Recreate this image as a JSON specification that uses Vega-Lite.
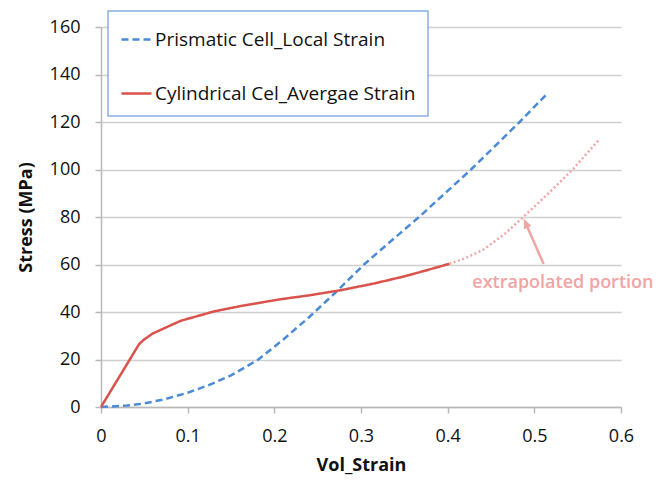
{
  "$schema": "https://vega.github.io/schema/vega-lite/v6.json",
  "width": 520,
  "height": 380,
  "autosize": {"type": "none"},
  "padding": {"left": 101, "top": 27, "right": 49, "bottom": 73},
  "background": "white",
  "config": {
    "font": "Open Sans",
    "view": {"stroke": null},
    "axis": {
      "labelFontSize": 18,
      "labelColor": "#111111",
      "labelFlush": false,
      "titleFontSize": 18,
      "titleFontWeight": "bold",
      "titleColor": "#111111",
      "domainColor": "#b8b8b8",
      "domainWidth": 1.5,
      "tickColor": "#b8b8b8",
      "tickWidth": 1.5,
      "tickSize": 6,
      "gridColor": "#cfcfcf",
      "gridWidth": 1.5
    },
    "legend": {
      "orient": "none",
      "legendX": 7,
      "legendY": -16,
      "fillColor": "white",
      "strokeColor": "#86aee6",
      "strokeWidth": 1.5,
      "padding": 12,
      "labelFontSize": 19,
      "labelColor": "#111111",
      "labelLimit": 400,
      "symbolType": "stroke",
      "symbolSize": 900,
      "symbolStrokeWidth": 2.5,
      "symbolOffset": 0,
      "labelOffset": 2,
      "rowPadding": 27
    }
  },
  "datasets": {
    "curves": [
      {"series": "Prismatic Cell_Local Strain", "strain": 0, "stress": 0},
      {"series": "Prismatic Cell_Local Strain", "strain": 0.03, "stress": 0.6},
      {"series": "Prismatic Cell_Local Strain", "strain": 0.05, "stress": 1.5},
      {"series": "Prismatic Cell_Local Strain", "strain": 0.075, "stress": 3.4},
      {"series": "Prismatic Cell_Local Strain", "strain": 0.1, "stress": 6.0},
      {"series": "Prismatic Cell_Local Strain", "strain": 0.125, "stress": 9.3},
      {"series": "Prismatic Cell_Local Strain", "strain": 0.15, "stress": 13.3},
      {"series": "Prismatic Cell_Local Strain", "strain": 0.1816, "stress": 20},
      {"series": "Prismatic Cell_Local Strain", "strain": 0.21, "stress": 28.3},
      {"series": "Prismatic Cell_Local Strain", "strain": 0.24, "stress": 37.8},
      {"series": "Prismatic Cell_Local Strain", "strain": 0.27, "stress": 48},
      {"series": "Prismatic Cell_Local Strain", "strain": 0.3035, "stress": 60},
      {"series": "Prismatic Cell_Local Strain", "strain": 0.335, "stress": 70},
      {"series": "Prismatic Cell_Local Strain", "strain": 0.367, "stress": 80},
      {"series": "Prismatic Cell_Local Strain", "strain": 0.397, "stress": 90},
      {"series": "Prismatic Cell_Local Strain", "strain": 0.427, "stress": 100},
      {"series": "Prismatic Cell_Local Strain", "strain": 0.455, "stress": 110},
      {"series": "Prismatic Cell_Local Strain", "strain": 0.483, "stress": 120},
      {"series": "Prismatic Cell_Local Strain", "strain": 0.515, "stress": 132},
      {"series": "Cylindrical Cel_Avergae Strain", "strain": 0, "stress": 0},
      {"series": "Cylindrical Cel_Avergae Strain", "strain": 0.044, "stress": 26.5},
      {"series": "Cylindrical Cel_Avergae Strain", "strain": 0.05, "stress": 28.5},
      {"series": "Cylindrical Cel_Avergae Strain", "strain": 0.06, "stress": 31},
      {"series": "Cylindrical Cel_Avergae Strain", "strain": 0.072, "stress": 33},
      {"series": "Cylindrical Cel_Avergae Strain", "strain": 0.092, "stress": 36.3},
      {"series": "Cylindrical Cel_Avergae Strain", "strain": 0.13, "stress": 40.2},
      {"series": "Cylindrical Cel_Avergae Strain", "strain": 0.161, "stress": 42.5},
      {"series": "Cylindrical Cel_Avergae Strain", "strain": 0.2075, "stress": 45.4},
      {"series": "Cylindrical Cel_Avergae Strain", "strain": 0.24, "stress": 47},
      {"series": "Cylindrical Cel_Avergae Strain", "strain": 0.277, "stress": 49.2},
      {"series": "Cylindrical Cel_Avergae Strain", "strain": 0.315, "stress": 52},
      {"series": "Cylindrical Cel_Avergae Strain", "strain": 0.35, "stress": 55},
      {"series": "Cylindrical Cel_Avergae Strain", "strain": 0.375, "stress": 57.5},
      {"series": "Cylindrical Cel_Avergae Strain", "strain": 0.402, "stress": 60.3},
      {"series": "extrapolated", "strain": 0.402, "stress": 60.3},
      {"series": "extrapolated", "strain": 0.42, "stress": 62.6},
      {"series": "extrapolated", "strain": 0.441, "stress": 66.2},
      {"series": "extrapolated", "strain": 0.465, "stress": 72.6},
      {"series": "extrapolated", "strain": 0.487, "stress": 79.9},
      {"series": "extrapolated", "strain": 0.515, "stress": 89.5},
      {"series": "extrapolated", "strain": 0.545, "stress": 100.3},
      {"series": "extrapolated", "strain": 0.574, "stress": 112.3}
    ],
    "arrow": [
      {"x": 0.5107, "y": 60.2, "x2": 0.4895, "y2": 77.8, "tipx": 0.4877, "tipy": 79.4}
    ],
    "note": [
      {"x": 0.4284, "y": 52.2, "label": "extrapolated portion"}
    ]
  },
  "layer": [
    {
      "data": {"name": "curves"},
      "mark": {"type": "line", "strokeWidth": 2.5},
      "encoding": {
        "x": {
          "field": "strain",
          "type": "quantitative",
          "title": "Vol_Strain",
          "scale": {"domain": [0, 0.6], "nice": false},
          "axis": {
            "values": [0, 0.1, 0.2, 0.3, 0.4, 0.5, 0.6],
            "format": "~g",
            "grid": false,
            "labelPadding": 14,
            "titlePadding": 11
          }
        },
        "y": {
          "field": "stress",
          "type": "quantitative",
          "title": "Stress (MPa)",
          "scale": {"domain": [0, 160], "nice": false},
          "axis": {
            "values": [0, 20, 40, 60, 80, 100, 120, 140, 160],
            "labelPadding": 15,
            "titlePadding": 14
          }
        },
        "color": {
          "field": "series",
          "type": "nominal",
          "scale": {
            "domain": ["Prismatic Cell_Local Strain", "Cylindrical Cel_Avergae Strain", "extrapolated"],
            "range": ["#4a8ad6", "#d9534c", "#f2a6a6"]
          },
          "legend": {"title": null, "values": ["Prismatic Cell_Local Strain", "Cylindrical Cel_Avergae Strain"]}
        },
        "strokeDash": {
          "field": "series",
          "type": "nominal",
          "scale": {
            "domain": ["Prismatic Cell_Local Strain", "Cylindrical Cel_Avergae Strain", "extrapolated"],
            "range": [[7, 4], [1, 0], [2, 2.5]]
          },
          "legend": {"title": null, "values": ["Prismatic Cell_Local Strain", "Cylindrical Cel_Avergae Strain"]}
        }
      }
    },
    {
      "data": {"name": "arrow"},
      "mark": {"type": "rule", "color": "#f0a4a4", "strokeWidth": 2.5},
      "encoding": {
        "x": {"field": "x", "type": "quantitative"},
        "y": {"field": "y", "type": "quantitative"},
        "x2": {"field": "x2"},
        "y2": {"field": "y2"}
      }
    },
    {
      "data": {"name": "arrow"},
      "mark": {
        "type": "point",
        "shape": "M0,0 L-0.8,2 L0.8,2 Z",
        "filled": true,
        "opacity": 1,
        "color": "#f0a4a4",
        "size": 100,
        "angle": 336.4
      },
      "encoding": {
        "x": {"field": "tipx", "type": "quantitative"},
        "y": {"field": "tipy", "type": "quantitative"}
      }
    },
    {
      "data": {"name": "note"},
      "mark": {
        "type": "text",
        "align": "left",
        "baseline": "middle",
        "fontSize": 18,
        "fontWeight": 600,
        "color": "#f0a4a4"
      },
      "encoding": {
        "x": {"field": "x", "type": "quantitative"},
        "y": {"field": "y", "type": "quantitative"},
        "text": {"field": "label"}
      }
    }
  ]
}
